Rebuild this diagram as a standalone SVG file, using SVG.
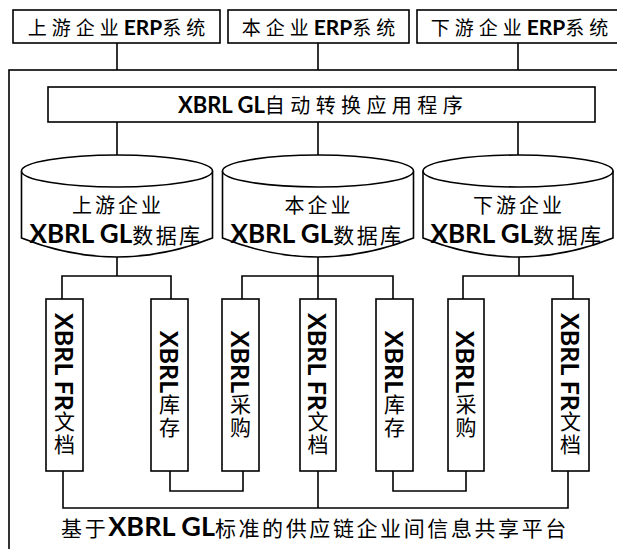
<svg xmlns="http://www.w3.org/2000/svg" width="617" height="549" viewBox="0 0 617 549">
<style>
.t{font-family:"Noto Sans CJK SC","Noto Sans CJK JP",sans-serif;fill:#000;font-weight:400}
.l{font-family:Lato,"Liberation Sans","Noto Sans CJK SC",sans-serif;font-weight:700;letter-spacing:0}
.box{fill:#fff;stroke:#000;stroke-width:1.6}
.ln{fill:none;stroke:#000;stroke-width:1.6}
.v{writing-mode:vertical-rl}
</style>
<rect x="0" y="0" width="617" height="549" fill="#fff"/>
<g id="platform">
<rect class="box" x="9" y="70" width="700" height="600"/>
<text class="t" x="315" y="536" font-size="21" letter-spacing="2.6" text-anchor="middle">基于<tspan class="l" font-size="27">XBRL GL</tspan>标准的供应链企业间信息共享平台</text>
</g>
<g id="connectors">
<path class="ln" d="M117 43V70M318 43V70M518 43V70"/>
<path class="ln" d="M117 122V170M318 122V170M518 122V170"/>
<path class="ln" d="M117 257V276M62 299V276H171V299"/>
<path class="ln" d="M318 257V299M242 299V276H393V299"/>
<path class="ln" d="M519 257V276M463 299V276H573V299"/>
<path class="ln" d="M170 471V491H243V471M393 471V491H466V471"/>
<path class="ln" d="M63 471V508H568V471M318 471V508"/>
</g>
<g id="erp-up">
<rect class="box" x="13" y="10" width="207" height="33"/>
<text class="t" x="119" y="35" font-size="19" letter-spacing="5" text-anchor="middle">上游企业<tspan class="l" font-size="21">ERP</tspan>系统</text>
</g>
<g id="erp-self">
<rect class="box" x="228" y="10" width="181" height="33"/>
<text class="t" x="321" y="35" font-size="19" letter-spacing="5" text-anchor="middle">本企业<tspan class="l" font-size="21">ERP</tspan>系统</text>
</g>
<g id="erp-down">
<rect class="box" x="417" y="10" width="210" height="33"/>
<text class="t" x="522" y="35" font-size="19" letter-spacing="5" text-anchor="middle">下游企业<tspan class="l" font-size="21">ERP</tspan>系统</text>
</g>
<g id="converter">
<rect class="box" x="48" y="87" width="547" height="35"/>
<text class="t" x="323" y="113" font-size="20" letter-spacing="5.4" text-anchor="middle"><tspan class="l" font-size="22">XBRL GL</tspan>自动转换应用程序</text>
</g>
<g id="db-up">
<path class="box" d="M21.5 171V238Q117 276 212.5 238V171"/>
<ellipse class="box" cx="117" cy="171" rx="95.5" ry="16"/>
<text class="t" x="118" y="213" font-size="20" letter-spacing="3" text-anchor="middle">上游企业</text>
<text class="t" x="116" y="243" font-size="21" letter-spacing="2.4" text-anchor="middle"><tspan class="l" font-size="26">XBRL GL</tspan>数据库</text>
</g>
<g id="db-self">
<path class="box" d="M222.5 171V238Q318 276 413.5 238V171"/>
<ellipse class="box" cx="318" cy="171" rx="95.5" ry="16"/>
<text class="t" x="319" y="213" font-size="20" letter-spacing="3" text-anchor="middle">本企业</text>
<text class="t" x="317" y="243" font-size="21" letter-spacing="2.4" text-anchor="middle"><tspan class="l" font-size="26">XBRL GL</tspan>数据库</text>
</g>
<g id="db-down">
<path class="box" d="M423 171V238Q518 276 613 238V171"/>
<ellipse class="box" cx="518" cy="171" rx="95" ry="16"/>
<text class="t" x="519" y="213" font-size="20" letter-spacing="3" text-anchor="middle">下游企业</text>
<text class="t" x="517" y="243" font-size="21" letter-spacing="2.4" text-anchor="middle"><tspan class="l" font-size="26">XBRL GL</tspan>数据库</text>
</g>
<g id="fr-up">
<rect class="box" x="46" y="299" width="37" height="172"/>
<text class="t v" x="64.5" y="385" font-size="21" letter-spacing="2" text-anchor="middle"><tspan class="l" font-size="25">XBRL FR</tspan>文档</text>
</g>
<g id="inv-up">
<rect class="box" x="151" y="299" width="37" height="172"/>
<text class="t v" x="169.5" y="385" font-size="21" letter-spacing="2" text-anchor="middle"><tspan class="l" font-size="25">XBRL</tspan>库存</text>
</g>
<g id="pur-self">
<rect class="box" x="222" y="299" width="37" height="172"/>
<text class="t v" x="240.5" y="385" font-size="21" letter-spacing="2" text-anchor="middle"><tspan class="l" font-size="25">XBRL</tspan>采购</text>
</g>
<g id="fr-self">
<rect class="box" x="300" y="299" width="36" height="172"/>
<text class="t v" x="318" y="385" font-size="21" letter-spacing="2" text-anchor="middle"><tspan class="l" font-size="25">XBRL FR</tspan>文档</text>
</g>
<g id="inv-self">
<rect class="box" x="376" y="299" width="37" height="172"/>
<text class="t v" x="394.5" y="385" font-size="21" letter-spacing="2" text-anchor="middle"><tspan class="l" font-size="25">XBRL</tspan>库存</text>
</g>
<g id="pur-down">
<rect class="box" x="448" y="299" width="36" height="172"/>
<text class="t v" x="466" y="385" font-size="21" letter-spacing="2" text-anchor="middle"><tspan class="l" font-size="25">XBRL</tspan>采购</text>
</g>
<g id="fr-down">
<rect class="box" x="552" y="299" width="37" height="172"/>
<text class="t v" x="570.5" y="385" font-size="21" letter-spacing="2" text-anchor="middle"><tspan class="l" font-size="25">XBRL FR</tspan>文档</text>
</g>
</svg>
